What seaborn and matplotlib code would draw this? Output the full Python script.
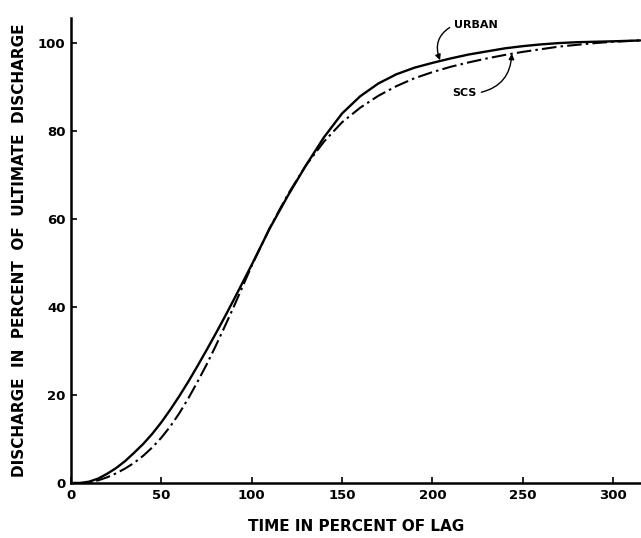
import matplotlib
matplotlib.use("Agg")
import matplotlib.pyplot as plt
import seaborn as sns
import pandas as pd

# ---- data ----
urban_t = [0, 5, 10, 15, 20, 25, 30, 35, 40, 45, 50, 55, 60, 65, 70, 75, 80, 85, 90, 95,
           100, 110, 120, 130, 140, 150, 160, 170, 180, 190, 200, 210, 220, 230, 240,
           250, 260, 270, 280, 290, 300, 315]
urban_q = [0, 0, 0.3, 1.0, 2.1, 3.4, 5.0, 6.9, 8.9, 11.2, 13.8, 16.7, 19.8, 23.1, 26.6,
           30.2, 33.9, 37.7, 41.6, 45.6, 49.6, 57.9, 65.3, 72.2, 78.6, 84.0, 87.9, 90.8,
           92.9, 94.4, 95.5, 96.5, 97.4, 98.1, 98.8, 99.3, 99.7, 100.0, 100.2, 100.3,
           100.4, 100.6]

scs_t = [0, 8, 10, 15, 20, 25, 30, 35, 40, 45, 50, 55, 60, 65, 70, 75, 80, 85, 90, 95,
         100, 110, 120, 130, 140, 150, 160, 170, 180, 190, 200, 210, 220, 230, 240,
         250, 260, 270, 280, 290, 300, 315]
scs_q = [0, 0, 0.15, 0.6, 1.3, 2.2, 3.3, 4.6, 6.2, 8.1, 10.3, 12.9, 15.9, 19.3, 23.0,
         26.9, 31.1, 35.5, 40.0, 44.7, 49.4, 58.0, 65.6, 72.2, 77.6, 82.0, 85.3, 88.0,
         90.2, 92.0, 93.4, 94.6, 95.6, 96.5, 97.3, 98.0, 98.6, 99.2, 99.6, 100.0,
         100.3, 100.6]

x_ticks = [0, 50, 100, 150, 200, 250, 300]
y_ticks = [0, 20, 40, 60, 80, 100]
x_title = "TIME IN PERCENT OF LAG"
y_title = "DISCHARGE  IN  PERCENT  OF  ULTIMATE  DISCHARGE"

urban_df = pd.DataFrame({"t": urban_t, "q": urban_q})
scs_df = pd.DataFrame({"t": scs_t, "q": scs_q})

sns.set_style("ticks")
plt.rcParams["font.family"] = ["DejaVu Sans"]
plt.rcParams["text.color"] = "black"
plt.rcParams["axes.labelcolor"] = "black"

fig = plt.figure(figsize=(6.41, 5.38), dpi=100)
ax = fig.add_axes([71 / 641, 55 / 538, 570 / 641, 465 / 538])

sns.lineplot(data=urban_df, x="t", y="q", ax=ax, color="black", lw=1.7,
             sort=False, estimator=None)
sns.lineplot(data=scs_df, x="t", y="q", ax=ax, color="black", lw=1.5,
             sort=False, estimator=None)
ax.lines[-1].set_dashes((7, 2, 1.2, 2))

ax.set_xlim(0, 315.4)
ax.set_ylim(0, 105.7)
ax.set_xticks(x_ticks)
ax.set_yticks(y_ticks)
ax.set_xticklabels([str(v) for v in x_ticks], fontsize=9.5, fontweight="bold")
ax.set_yticklabels([str(v) for v in y_ticks], fontsize=9.5, fontweight="bold")
ax.tick_params(direction="in", length=4, width=1.2, colors="black", pad=4)

for side in ("top", "right"):
    ax.spines[side].set_visible(False)
for side in ("left", "bottom"):
    ax.spines[side].set_linewidth(1.8)
    ax.spines[side].set_color("black")

ax.set_xlabel(x_title, fontsize=11, fontweight="bold")
ax.set_ylabel(y_title, fontsize=11, fontweight="bold")
ax.xaxis.label.set_va("center")
ax.yaxis.label.set_va("center")
ax.xaxis.set_label_coords(0.5, -0.0946)
ax.yaxis.set_label_coords(-0.0895, 0.50)

ax.annotate("URBAN", xy=(204.2, 96.1), xytext=(212, 104.1), fontsize=8,
            fontweight="bold", ha="left", va="center",
            arrowprops=dict(arrowstyle="-|>", color="black", lw=1.0,
                            mutation_scale=8, relpos=(0, 0.5), shrinkA=1, shrinkB=0,
                            connectionstyle="arc3,rad=0.45"))
ax.annotate("SCS", xy=(243.9, 97.6), xytext=(211, 88.6), fontsize=8,
            fontweight="bold", ha="left", va="center",
            arrowprops=dict(arrowstyle="-|>", color="black", lw=1.0,
                            mutation_scale=8, relpos=(1, 0.5), shrinkA=1, shrinkB=0,
                            connectionstyle="arc3,rad=0.4"))

fig.savefig("out.png", dpi=100, facecolor="white")
